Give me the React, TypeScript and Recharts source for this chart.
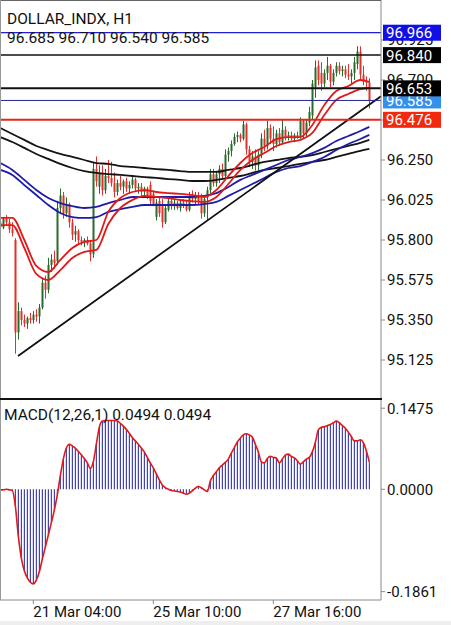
import { ComposedChart, Bar, Line, XAxis, YAxis, ReferenceLine } from "recharts";

// DOLLAR_INDX H1 candles: [open, high, low, close]
const candles: [number, number, number, number][] = [
  [95.90, 95.93, 95.83, 95.87], [95.87, 95.93, 95.86, 95.92], [95.92, 95.94, 95.88, 95.90], [95.90, 95.92, 95.84, 95.86],
  [95.86, 95.90, 95.82, 95.84], [95.80, 95.81, 95.16, 95.28], [95.28, 95.45, 95.24, 95.40], [95.40, 95.42, 95.32, 95.35],
  [95.35, 95.38, 95.31, 95.33], [95.33, 95.37, 95.30, 95.36], [95.36, 95.39, 95.33, 95.35], [95.35, 95.40, 95.33, 95.38],
  [95.38, 95.41, 95.34, 95.37], [95.37, 95.44, 95.33, 95.42], [95.42, 95.58, 95.41, 95.56], [95.56, 95.60, 95.47, 95.52],
  [95.52, 95.70, 95.50, 95.66], [95.66, 95.72, 95.62, 95.69], [95.69, 95.74, 95.64, 95.67], [95.68, 96.02, 95.66, 95.98],
  [95.98, 96.09, 95.95, 96.05], [96.05, 96.07, 95.92, 95.95], [95.95, 96.04, 95.93, 96.00], [96.00, 96.01, 95.87, 95.90],
  [95.90, 95.92, 95.80, 95.83], [95.83, 95.88, 95.79, 95.85], [95.85, 95.86, 95.78, 95.80], [95.80, 95.82, 95.77, 95.79],
  [95.79, 95.81, 95.76, 95.80], [95.80, 95.82, 95.77, 95.78], [95.78, 95.80, 95.68, 95.72], [95.72, 96.24, 95.70, 96.20],
  [96.20, 96.27, 96.10, 96.13], [96.10, 96.22, 96.06, 96.18], [96.18, 96.22, 96.05, 96.08], [96.08, 96.20, 96.06, 96.16],
  [96.16, 96.25, 96.12, 96.15], [96.15, 96.24, 96.10, 96.12], [96.12, 96.18, 96.04, 96.07], [96.07, 96.14, 96.05, 96.12],
  [96.12, 96.16, 96.08, 96.10], [96.10, 96.14, 96.06, 96.13], [96.13, 96.15, 96.07, 96.09], [96.09, 96.13, 96.06, 96.11],
  [96.11, 96.16, 96.09, 96.14], [96.14, 96.15, 96.07, 96.09], [96.09, 96.12, 96.06, 96.10], [96.10, 96.12, 96.05, 96.07],
  [96.07, 96.10, 96.04, 96.09], [96.09, 96.10, 96.03, 96.05], [96.11, 96.13, 96.00, 96.02], [96.06, 96.08, 95.99, 96.00],
  [95.93, 96.03, 95.91, 96.01], [96.02, 96.04, 95.93, 95.95], [96.00, 96.03, 95.87, 95.90], [95.90, 96.00, 95.89, 95.98],
  [95.97, 96.04, 95.96, 96.02], [96.02, 96.04, 95.97, 95.99], [95.99, 96.03, 95.97, 96.01], [96.01, 96.02, 95.97, 95.98],
  [95.98, 96.02, 95.96, 96.01], [96.01, 96.03, 95.98, 96.00], [96.00, 96.02, 95.96, 95.97], [95.97, 96.07, 95.96, 96.04],
  [96.04, 96.08, 96.01, 96.03], [96.03, 96.07, 96.00, 96.05], [96.05, 96.07, 96.00, 96.02], [96.05, 96.06, 95.92, 95.95],
  [95.95, 96.05, 95.93, 96.03], [96.04, 96.10, 95.91, 96.08], [96.08, 96.20, 96.06, 96.17], [96.17, 96.20, 96.10, 96.12],
  [96.12, 96.19, 96.10, 96.17], [96.17, 96.22, 96.12, 96.20], [96.20, 96.23, 96.14, 96.16], [96.16, 96.31, 96.15, 96.28],
  [96.28, 96.32, 96.24, 96.30], [96.30, 96.36, 96.27, 96.34], [96.34, 96.40, 96.33, 96.38], [96.38, 96.41, 96.35, 96.39],
  [96.39, 96.40, 96.35, 96.37], [96.37, 96.47, 96.36, 96.45], [96.45, 96.46, 96.28, 96.31], [96.31, 96.33, 96.21, 96.24],
  [96.24, 96.30, 96.20, 96.27], [96.27, 96.31, 96.19, 96.22], [96.22, 96.30, 96.19, 96.28], [96.28, 96.40, 96.26, 96.37],
  [96.37, 96.42, 96.30, 96.33], [96.33, 96.47, 96.31, 96.43], [96.43, 96.45, 96.34, 96.37], [96.37, 96.44, 96.30, 96.34],
  [96.34, 96.42, 96.32, 96.40], [96.40, 96.43, 96.33, 96.35], [96.35, 96.48, 96.34, 96.42], [96.42, 96.44, 96.36, 96.38],
  [96.38, 96.41, 96.36, 96.39], [96.39, 96.41, 96.36, 96.37], [96.37, 96.40, 96.35, 96.39], [96.39, 96.41, 96.37, 96.38],
  [96.38, 96.49, 96.37, 96.47], [96.47, 96.48, 96.37, 96.40], [96.40, 96.48, 96.38, 96.46], [96.46, 96.55, 96.44, 96.52],
  [96.50, 96.70, 96.48, 96.68], [96.66, 96.81, 96.60, 96.77], [96.78, 96.81, 96.67, 96.70], [96.74, 96.80, 96.64, 96.68],
  [96.68, 96.76, 96.66, 96.74], [96.74, 96.83, 96.70, 96.78], [96.78, 96.79, 96.66, 96.69], [96.69, 96.76, 96.67, 96.74],
  [96.74, 96.80, 96.72, 96.78], [96.78, 96.80, 96.73, 96.75], [96.75, 96.78, 96.72, 96.76], [96.76, 96.78, 96.71, 96.73],
  [96.73, 96.79, 96.70, 96.72], [96.72, 96.76, 96.68, 96.74], [96.74, 96.83, 96.70, 96.80], [96.79, 96.89, 96.76, 96.86],
  [96.86, 96.89, 96.70, 96.73], [96.73, 96.78, 96.67, 96.69], [96.69, 96.72, 96.64, 96.685], [96.685, 96.71, 96.54, 96.585],
];

// MACD(12,26,1) per candle
const macd = [
  -0.001, -0.001, 0.0, -0.001, -0.002, -0.03, -0.085, -0.125, -0.148, -0.161, -0.169, -0.172, -0.165, -0.15, -0.127, -0.105,
  -0.083, -0.061, -0.038, -0.01, 0.025, 0.055, 0.075, 0.082, 0.079, 0.075, 0.069, 0.063, 0.056, 0.048, 0.038, 0.05,
  0.082, 0.113, 0.124, 0.125, 0.125, 0.125, 0.125, 0.124, 0.12, 0.115, 0.109, 0.102, 0.094, 0.088, 0.082, 0.075,
  0.068, 0.058, 0.048, 0.039, 0.028, 0.017, 0.008, 0.003, 0.0, -0.002, -0.003, -0.004, -0.005, -0.007, -0.009, -0.007,
  -0.003, 0.002, 0.005, 0.003, -0.001, -0.004, 0.015, 0.025, 0.032, 0.039, 0.044, 0.049, 0.055, 0.066, 0.076, 0.086,
  0.093, 0.099, 0.101, 0.099, 0.095, 0.082, 0.068, 0.05, 0.048, 0.056, 0.06, 0.058, 0.057, 0.048, 0.055, 0.062,
  0.064, 0.06, 0.057, 0.052, 0.046, 0.05, 0.055, 0.058, 0.068, 0.085, 0.108, 0.113, 0.114, 0.116, 0.118, 0.121,
  0.124, 0.121, 0.116, 0.111, 0.104, 0.096, 0.088, 0.088, 0.09, 0.085, 0.07, 0.0494,
];

// moving averages, read at these candle indices
const maIndex = [0, 4, 8, 12, 16, 20, 24, 28, 32, 36, 40, 44, 48, 52, 56, 60, 64, 68, 72, 76, 80, 84, 88, 92, 96, 100, 104, 108, 112, 116, 120, 123];
const redHigh = [95.924, 95.924, 95.8, 95.654, 95.62, 95.688, 95.755, 95.789, 95.8, 95.958, 96.036, 96.07, 96.081, 96.07, 96.064, 96.059, 96.053, 96.042, 96.081, 96.16, 96.233, 96.289, 96.323, 96.368, 96.379, 96.379, 96.447, 96.559, 96.638, 96.666, 96.7, 96.689];
const redLow = [95.884, 95.884, 95.755, 95.609, 95.575, 95.631, 95.699, 95.733, 95.744, 95.89, 95.98, 96.025, 96.048, 96.042, 96.036, 96.025, 96.019, 96.014, 96.042, 96.115, 96.194, 96.25, 96.289, 96.329, 96.351, 96.363, 96.402, 96.503, 96.588, 96.621, 96.649, 96.655];
const blueHigh = [96.233, 96.194, 96.138, 96.081, 96.036, 96.008, 95.991, 95.98, 95.986, 96.008, 96.025, 96.042, 96.042, 96.042, 96.042, 96.042, 96.042, 96.048, 96.064, 96.098, 96.138, 96.166, 96.194, 96.222, 96.25, 96.267, 96.289, 96.318, 96.357, 96.385, 96.413, 96.436];
const blueLow = [96.194, 96.166, 96.109, 96.053, 95.997, 95.952, 95.929, 95.924, 95.929, 95.958, 95.974, 95.986, 95.997, 95.997, 95.997, 95.997, 95.997, 96.003, 96.014, 96.048, 96.081, 96.115, 96.149, 96.183, 96.205, 96.216, 96.239, 96.267, 96.306, 96.34, 96.368, 96.391];
const blackHigh = [96.43, 96.396, 96.363, 96.329, 96.306, 96.284, 96.267, 96.25, 96.233, 96.228, 96.216, 96.211, 96.205, 96.199, 96.194, 96.188, 96.183, 96.183, 96.183, 96.194, 96.205, 96.222, 96.239, 96.25, 96.261, 96.267, 96.278, 96.295, 96.312, 96.329, 96.346, 96.363];
const blackLow = [96.379, 96.351, 96.318, 96.284, 96.256, 96.228, 96.205, 96.188, 96.177, 96.171, 96.166, 96.16, 96.154, 96.149, 96.143, 96.138, 96.132, 96.132, 96.138, 96.149, 96.16, 96.177, 96.194, 96.205, 96.216, 96.228, 96.239, 96.25, 96.267, 96.284, 96.301, 96.312];

// trendline anchors: [candle index, price]
const trendline: [number, number][] = [[5.9, 95.148], [126.89, 96.608]];

const priceTicks = [95.125, 95.35, 95.575, 95.8, 96.025, 96.25, 96.475, 96.7, 96.925];
const macdTicks = [0.1475, 0, -0.1861];
const timeTickIndex = [11, 51, 91];
const timeTickLabels = ["21 Mar 04:00", "25 Mar 10:00", "27 Mar 16:00"];

// horizontal levels, drawn in this order
const levelValues = [96.966, 96.84, 96.476, 96.585, 96.653];
const levelLabels = ["96.966", "96.840", "96.476", "96.585", "96.653"];

const levelStyle: Record<string, { line: string; w: number; bg: string }> = {
  "96.966": { line: "#1f1fd8", w: 1.2, bg: "#1010e6" },
  "96.840": { line: "#111", w: 1.5, bg: "#000" },
  "96.476": { line: "#e4261a", w: 2, bg: "#f2290f" },
  "96.585": { line: "#22229a", w: 1, bg: "#3590ec" },
  "96.653": { line: "#111", w: 2, bg: "#000" },
};

const rows = candles.map(([o, h, l, c], i) => {
  const k = maIndex.indexOf(i);
  const pick = (arr: number[]) => (k >= 0 ? arr[k] : null);
  return {
    i,
    o, h, l, c,
    range: [l, h],
    redHigh: pick(redHigh),
    redLow: pick(redLow),
    blueHigh: pick(blueHigh),
    blueLow: pick(blueLow),
    blackHigh: pick(blackHigh),
    blackLow: pick(blackLow),
  };
});

const macdRows = macd.map((v, i) => ({ i, macd: v }));

const X_DOMAIN: [number, number] = [-0.11, 126.89];
const PRICE_DOMAIN: [number, number] = [94.9, 97.15];
const FONT = "Roboto, 'Noto Sans', sans-serif";

const Candle = (props: any) => {
  const { x, y, width, height, payload } = props;
  if (x == null || y == null) return null;
  const top = Math.min(y, y + height);
  const bot = Math.max(y, y + height);
  const span = payload.h - payload.l || 1;
  const py = (v: number) => top + ((payload.h - v) / span) * (bot - top);
  const cx = Math.round(x + width / 2) + 0.5;
  const up = payload.c >= payload.o;
  const color = up ? "#2c6a2c" : "#e3302a";
  const y1 = py(Math.max(payload.o, payload.c));
  const y2 = py(Math.min(payload.o, payload.c));
  return (
    <g>
      <line x1={cx} x2={cx} y1={top} y2={bot} stroke={color} strokeWidth={1} />
      <rect x={cx - 1} y={y1} width={2} height={Math.max(1, y2 - y1)} fill={color} />
    </g>
  );
};

const priceTag = (text: string, bg: string) => (props: any) => {
  const vb = props.viewBox || {};
  const x = (vb.x ?? 0) + (vb.width ?? 0) + 2;
  const y = vb.y ?? 0;
  return (
    <g>
      <rect x={x} y={y - 8} width={58} height={16} fill={bg} />
      <text x={x + 3} y={y} dy="0.36em" fontSize={15} fill="#fff" fontFamily={FONT}>
        {text}
      </text>
    </g>
  );
};

const TimeTick = (props: any) => {
  const { x, y, payload } = props;
  const k = timeTickIndex.indexOf(payload.value);
  return (
    <text x={x} y={y} dy="0.71em" fontSize={15} fill="#111" textAnchor="start" fontFamily={FONT}>
      {k >= 0 ? timeTickLabels[k] : ""}
    </text>
  );
};

export default function App() {
  return (
    <div style={{ position: "relative", width: 451, height: 625, background: "#fff", fontFamily: FONT, overflow: "hidden" }}>
      <style>{"body{margin:0}"}</style>
      <ComposedChart width={451} height={400} data={rows} margin={{ top: 0, right: 0, bottom: 0, left: 0 }}>
        <XAxis dataKey="i" type="number" domain={X_DOMAIN} allowDataOverflow hide />
        <YAxis
          orientation="right"
          width={70}
          domain={PRICE_DOMAIN}
          allowDataOverflow
          ticks={priceTicks}
          interval={0}
          tickFormatter={(v: number) => v.toFixed(3)}
          tick={{ fontSize: 15, fill: "#111", fontFamily: FONT }}
          tickSize={4}
          tickMargin={2}
          stroke="#8a8a8a"
        />
        <Line dataKey="blackHigh" type="monotone" stroke="#141414" strokeWidth={1.8} dot={false} connectNulls isAnimationActive={false} />
        <Line dataKey="blackLow" type="monotone" stroke="#141414" strokeWidth={1.8} dot={false} connectNulls isAnimationActive={false} />
        <Line dataKey="blueHigh" type="monotone" stroke="#1c1ca8" strokeWidth={1.8} dot={false} connectNulls isAnimationActive={false} />
        <Line dataKey="blueLow" type="monotone" stroke="#1c1ca8" strokeWidth={1.8} dot={false} connectNulls isAnimationActive={false} />
        <ReferenceLine
          segment={[{ x: trendline[0][0], y: trendline[0][1] }, { x: trendline[1][0], y: trendline[1][1] }]}
          stroke="#111"
          strokeWidth={1.8}
          ifOverflow="visible"
        />
        <Bar dataKey="range" barSize={3} shape={<Candle />} isAnimationActive={false} />
        <Line dataKey="redHigh" type="monotone" stroke="#e01a1a" strokeWidth={1.8} dot={false} connectNulls isAnimationActive={false} />
        <Line dataKey="redLow" type="monotone" stroke="#e01a1a" strokeWidth={1.8} dot={false} connectNulls isAnimationActive={false} />
        {levelValues.map((v, k) => {
          const s = levelStyle[levelLabels[k]];
          return <ReferenceLine key={levelLabels[k]} y={v} stroke={s.line} strokeWidth={s.w} />;
        })}
      </ComposedChart>
      {/* price tags sit above the axis tick labels */}
      <div style={{ position: "absolute", left: 0, top: 0 }}>
        <ComposedChart width={451} height={400} data={rows} margin={{ top: 0, right: 0, bottom: 0, left: 0 }}>
          <XAxis dataKey="i" type="number" domain={X_DOMAIN} allowDataOverflow hide />
          <YAxis orientation="right" width={70} domain={PRICE_DOMAIN} allowDataOverflow tick={false} axisLine={false} tickLine={false} />
          {levelValues.map((v, k) => {
            const s = levelStyle[levelLabels[k]];
            return (
              <ReferenceLine
                key={levelLabels[k]}
                y={v}
                stroke="none"
                label={priceTag(levelLabels[k], s.bg)}
              />
            );
          })}
        </ComposedChart>
      </div>
      <ComposedChart width={451} height={225} data={macdRows} margin={{ top: 0, right: 0, bottom: 0, left: 0 }}>
        <XAxis
          dataKey="i"
          type="number"
          domain={X_DOMAIN}
          allowDataOverflow
          ticks={timeTickIndex}
          interval={0}
          height={25}
          tick={<TimeTick />}
          tickSize={4}
          tickMargin={2}
          stroke="#8a8a8a"
        />
        <YAxis
          orientation="right"
          width={70}
          domain={[-0.2013, 0.1624]}
          allowDataOverflow
          ticks={macdTicks}
          interval={0}
          tickFormatter={(v: number) => v.toFixed(4)}
          tick={{ fontSize: 15, fill: "#111", fontFamily: FONT }}
          tickSize={4}
          tickMargin={2}
          stroke="#8a8a8a"
        />
        <Bar dataKey="macd" barSize={1} fill="#1f1f9e" isAnimationActive={false} />
        <Line dataKey="macd" type="monotone" stroke="#e01a1a" strokeWidth={1.6} dot={false} isAnimationActive={false} />
      </ComposedChart>
      {/* frame lines */}
      <div style={{ position: "absolute", left: 0, top: 0, width: 381, height: 1, background: "#666" }} />
      <div style={{ position: "absolute", left: 0, top: 0, width: 1, height: 600, background: "#999" }} />
      <div style={{ position: "absolute", left: 0, top: 398, width: 382, height: 2, background: "#111" }} />
      <div style={{ position: "absolute", left: 0, top: 621, width: 451, height: 4, background: "#eeeeee" }} />
      <svg width={451} height={625} style={{ position: "absolute", left: 0, top: 0, pointerEvents: "none" }}>
        <text x={7} y={24} fontSize={15.5} fill="#111" fontFamily={FONT}>DOLLAR_INDX, H1</text>
        <text x={7} y={43} fontSize={15.5} fill="#111" fontFamily={FONT}>96.685 96.710 96.540 96.585</text>
        <text x={4} y={420} fontSize={15.5} fill="#111" fontFamily={FONT}>MACD(12,26,1) 0.0494 0.0494</text>
      </svg>
    </div>
  );
}
